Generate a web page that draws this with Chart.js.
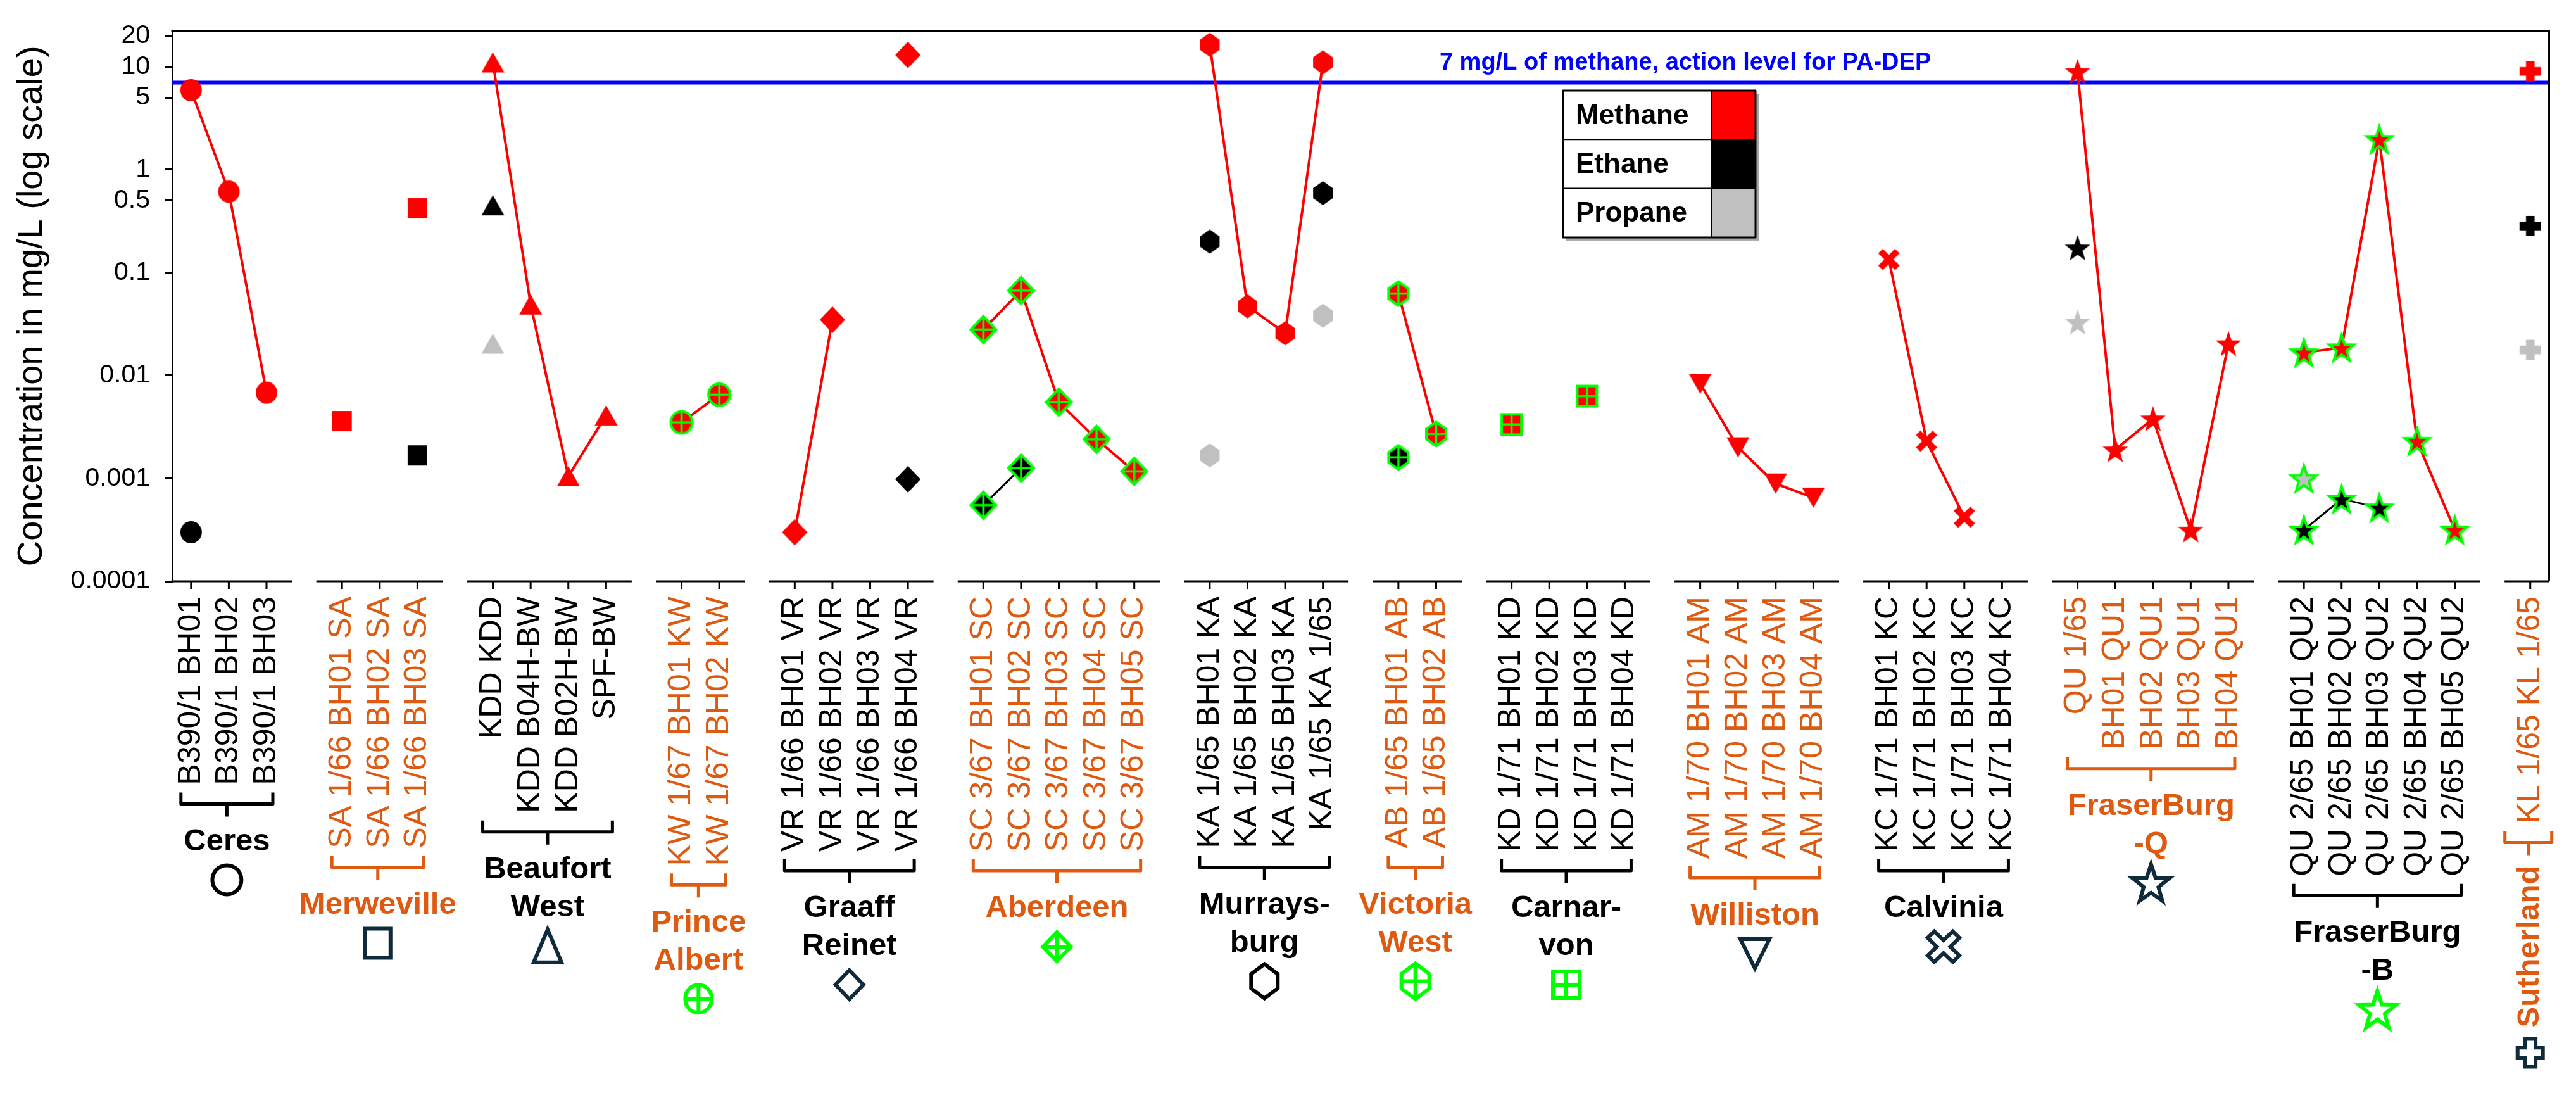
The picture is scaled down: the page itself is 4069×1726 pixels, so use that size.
<!DOCTYPE html>
<html><head><meta charset="utf-8">
<script src="https://cdn.jsdelivr.net/npm/chart.js@4.4.1/dist/chart.umd.min.js"></script>
<style>html,body{margin:0;padding:0;background:#fff}#wrap{width:4069px;height:1726px;position:relative}</style>
</head><body><div id="wrap"><canvas id="c"></canvas></div>
<script>
// ---------------- DATA ----------------
const groupNames = ['Ceres','Merweville','Beaufort\nWest','Prince\nAlbert','Graaff\nReinet','Aberdeen','Murrays-\nburg','Victoria\nWest','Carnar-\nvon','Williston','Calvinia','FraserBurg\n-Q','FraserBurg\n-B','Sutherland'];
const groupSizes = [3,3,4,2,4,5,4,2,4,4,4,5,5,1];
const categories = [
 'B390/1 BH01','B390/1 BH02','B390/1 BH03','',
 'SA 1/66 BH01 SA','SA 1/66 BH02 SA','SA 1/66 BH03 SA','',
 'KDD KDD','KDD B04H-BW','KDD B02H-BW','SPF-BW','',
 'KW 1/67 BH01 KW','KW 1/67 BH02 KW','',
 'VR 1/66 BH01 VR','VR 1/66 BH02 VR','VR 1/66 BH03 VR','VR 1/66 BH04 VR','',
 'SC 3/67 BH01 SC','SC 3/67 BH02 SC','SC 3/67 BH03 SC','SC 3/67 BH04 SC','SC 3/67 BH05 SC','',
 'KA 1/65 BH01 KA','KA 1/65 BH02 KA','KA 1/65 BH03 KA','KA 1/65 KA 1/65','',
 'AB 1/65 BH01 AB','AB 1/65 BH02 AB','',
 'KD 1/71 BH01 KD','KD 1/71 BH02 KD','KD 1/71 BH03 KD','KD 1/71 BH04 KD','',
 'AM 1/70 BH01 AM','AM 1/70 BH02 AM','AM 1/70 BH03 AM','AM 1/70 BH04 AM','',
 'KC 1/71 BH01 KC','KC 1/71 BH02 KC','KC 1/71 BH03 KC','KC 1/71 BH04 KC','',
 'QU 1/65','BH01 QU1','BH02 QU1','BH03 QU1','BH04 QU1','',
 'QU 2/65 BH01 QU2','QU 2/65 BH02 QU2','QU 2/65 BH03 QU2','QU 2/65 BH04 QU2','QU 2/65 BH05 QU2','',
 'KL 1/65 KL 1/65'
];
const methane = [
 5.9,0.61,0.0068,null,
 0.0036,null,0.42,null,
 11,0.049,0.00105,0.0041,null,
 0.0035,0.0065,null,
 0.0003,0.0348,null,13,null,
 0.0279,0.0668,0.0055,0.0024,0.00117,null,
 16.3,0.047,0.0257,11,null,
 0.0624,0.0027,null,
 0.00334,null,0.0063,null,null,
 0.0083,0.002,0.00089,0.00065,null,
 0.134,0.0023,0.00042,null,null,
 9,0.0019,0.0038,0.000316,0.0204,null,
 0.0167,0.0186,1.97,0.0023,0.000316,null,
 9
];
const ethane = [
 0.0003,null,null,null,
 null,null,0.00167,null,
 0.45,null,null,null,null,
 null,null,null,
 null,null,null,0.00098,null,
 0.00055,0.00126,null,null,null,null,
 0.2,null,null,0.59,null,
 0.0016,null,null,
 null,null,null,null,null,
 null,null,null,null,null,
 null,null,null,null,null,
 0.174,null,null,null,null,null,
 0.000316,0.00063,0.00052,null,null,null,
 0.283
];
const propane = [
 null,null,null,null,
 null,null,null,null,
 0.0204,null,null,null,null,
 null,null,null,
 null,null,null,null,null,
 null,null,null,null,null,null,
 0.00167,null,null,0.038,null,
 null,null,null,
 null,null,null,null,null,
 null,null,null,null,null,
 null,null,null,null,null,
 0.033,null,null,null,null,null,
 0.001,null,null,null,null,null,
 0.0177
];
const yTicks = [20,10,5,1,0.5,0.1,0.01,0.001,0.0001];
const actionLevel = 7;
const actionText = '7 mg/L of methane, action level for PA-DEP';
const legendNames = ['Methane','Ethane','Propane'];
const yTitle = 'Concentration in mg/L (log scale)';

// ---------------- STYLE ----------------
const FONT = "'Liberation Sans', Arial, Helvetica, sans-serif";
const LABEL_SIZE = 50;
const ORANGE = '#DD5A10', NAVY = '#0E2A3B', GREEN = '#00FF00', RED = '#FF0000', GREY = '#C0C0C0', BLUE = '#0000FF';
const legendColors = [RED, '#000000', GREY];
const gShape = ['circle','square','triangle','circle','diamond','diamond','hexagon','hexagon','square','triDown','x','star','star','plus'];
const gAccent = [null,null,null,'cross',null,'cross',null,'cross','cross',null,null,null,'outline',null];
const gSymColor = ['#000',NAVY,NAVY,GREEN,NAVY,GREEN,'#000',GREEN,GREEN,NAVY,NAVY,NAVY,GREEN,NAVY];
const gSymSize = [[46,46],[40,46],[44,52],[42,44],[44,46],[44,46],[42,54],[44,56],[42,42],[46,46],[52,50],[58,58],[58,58],[40,44]];
const mSize = {circle:[34,35],square:[31,32],triangle:[36,32],diamond:[40,42],hexagon:[31,38],triDown:[36,32],x:[34,34],star:[40,40],plus:[34,32]};

const groupStart = []; { let k = 0; groupSizes.forEach(n => { groupStart.push(k); k += n + 1; }); }
const groupOf = categories.map(() => -1);
groupSizes.forEach((n, g) => { for (let j = 0; j < n; j++) groupOf[groupStart[g] + j] = g; });

function polyPath(g, pts){ g.moveTo(pts[0][0], pts[0][1]); for (let i = 1; i < pts.length; i++) g.lineTo(pts[i][0], pts[i][1]); g.closePath(); }
function plusPts(a, b, t){ return [[-t,-b],[t,-b],[t,-t],[a,-t],[a,t],[t,t],[t,b],[-t,b],[-t,t],[-a,t],[-a,-t],[-t,-t]]; }
function shapePath(g, shape, w, h){
  const a = w/2, b = h/2; g.beginPath();
  if (shape === 'circle') g.ellipse(0,0,a,b,0,0,Math.PI*2);
  else if (shape === 'square') g.rect(-a,-b,w,h);
  else if (shape === 'triangle') polyPath(g,[[0,-b],[a,b],[-a,b]]);
  else if (shape === 'triDown') polyPath(g,[[-a,-b],[a,-b],[0,b]]);
  else if (shape === 'diamond') polyPath(g,[[0,-b],[a,0],[0,b],[-a,0]]);
  else if (shape === 'hexagon') polyPath(g,[[0,-b],[a,-b*0.42],[a,b*0.42],[0,b],[-a,b*0.42],[-a,-b*0.42]]);
  else if (shape === 'star') {
    const R = h/1.809, sx = w/(1.902*R), dy = (R - 0.809*R)/2, pts = [];
    for (let i = 0; i < 10; i++) { const r = i % 2 ? R*0.4 : R; const ang = -Math.PI/2 + i*Math.PI/5; pts.push([Math.cos(ang)*r*sx, Math.sin(ang)*r + dy]); }
    polyPath(g, pts);
  }
  else if (shape === 'plus') polyPath(g, plusPts(a, b, Math.min(a,b)*0.42));
  else if (shape === 'x') {
    const L = Math.hypot(a,b)*0.78, t = Math.min(a,b)*0.3;
    polyPath(g, plusPts(L, L, t).map(([px,py]) => [(px-py)*Math.SQRT1_2*(a/Math.max(a,b)), (px+py)*Math.SQRT1_2*(b/Math.max(a,b))]));
  }
}
function makeMarker(shape, fill, accent){
  const [w,h] = mSize[shape];
  const sw = accent ? 4 : 0;
  const cw = Math.ceil(w + sw + 6), ch = Math.ceil(h + sw + 6);
  const c = document.createElement('canvas'); c.width = cw; c.height = ch;
  const g = c.getContext('2d'); g.translate(cw/2, ch/2);
  shapePath(g, shape, w, h); g.fillStyle = fill; g.fill();
  if (accent === 'cross') {
    g.save(); g.clip(); g.strokeStyle = GREEN; g.lineWidth = 3.5; g.beginPath();
    g.moveTo(0,-h); g.lineTo(0,h); g.moveTo(-w,0); g.lineTo(w,0); g.stroke(); g.restore();
  }
  if (accent) { shapePath(g, shape, w, h); g.lineWidth = sw; g.strokeStyle = GREEN; g.lineJoin = 'miter'; g.stroke(); }
  return c;
}
function stylesFor(fill){
  const cache = {};
  return categories.map((_, i) => {
    const g = groupOf[i]; if (g < 0) return 'circle';
    if (!cache[g]) cache[g] = makeMarker(gShape[g], fill, gAccent[g]);
    return cache[g];
  });
}
const labelColor = i => { const g = groupOf[i]; return g >= 0 && g % 2 === 1 ? ORANGE : '#000'; };

// ---------------- PLUGIN ----------------
const decor = {
  id: 'decor',
  beforeDatasetsDraw(chart){
    const {ctx, chartArea: ca, scales: {y}} = chart;
    const yy = y.getPixelForValue(actionLevel);
    ctx.save(); ctx.strokeStyle = BLUE; ctx.lineWidth = 6;
    ctx.beginPath(); ctx.moveTo(ca.left, yy); ctx.lineTo(ca.right, yy); ctx.stroke();
    ctx.font = 'bold 38px ' + FONT; ctx.fillStyle = BLUE; ctx.textAlign = 'left'; ctx.textBaseline = 'middle';
    ctx.fillText(actionText, ca.left + (ca.right - ca.left)*0.5332, yy - 31);
    ctx.restore();
  },
  afterDraw(chart){
    const {ctx, chartArea: ca, scales: {x}} = chart;
    ctx.save();
    ctx.strokeStyle = '#000'; ctx.lineWidth = 3;
    ctx.beginPath(); ctx.moveTo(ca.left - 1.5, ca.top); ctx.lineTo(ca.right, ca.top); ctx.lineTo(ca.right, ca.bottom); ctx.stroke();
    const step = x.getPixelForValue(1) - x.getPixelForValue(0);
    const labelStart = ca.bottom + 24;
    groupSizes.forEach((n, g) => {
      const i0 = groupStart[g], i1 = i0 + n - 1;
      const p0 = x.getPixelForValue(i0), p1 = x.getPixelForValue(i1);
      ctx.strokeStyle = '#000'; ctx.lineWidth = 3;
      const s0 = g === 0 ? ca.left - 1.5 : p0 - 0.68*step;
      const s1 = g === groupSizes.length - 1 ? ca.right : p1 + 0.68*step;
      ctx.beginPath(); ctx.moveTo(s0, ca.bottom); ctx.lineTo(s1, ca.bottom);
      for (let i = i0; i <= i1; i++) { const p = x.getPixelForValue(i); ctx.moveTo(p, ca.bottom); ctx.lineTo(p, ca.bottom + 12); }
      ctx.stroke();
    });
    groupSizes.forEach((n, g) => {
      const i0 = groupStart[g], i1 = i0 + n - 1;
      const p0 = x.getPixelForValue(i0), p1 = x.getPixelForValue(i1);
      ctx.font = LABEL_SIZE + 'px ' + FONT;
      let maxW = 0; for (let i = i0; i <= i1; i++) maxW = Math.max(maxW, ctx.measureText(categories[i]).width);
      const col = g % 2 === 1 ? ORANGE : '#000';
      const top = labelStart + maxW + 12;
      let bx0 = p0 - 16, bx1 = p1 + 10;
      if (n === 1) { bx0 = p0 - 40; bx1 = p0 + 34; }
      const mid = top + 18, cx = (bx0 + bx1)/2;
      ctx.strokeStyle = col; ctx.lineWidth = 5; ctx.lineJoin = 'round'; ctx.lineCap = 'butt';
      ctx.beginPath(); ctx.moveTo(bx0, top); ctx.lineTo(bx0, mid); ctx.lineTo(bx1, mid); ctx.lineTo(bx1, top);
      ctx.moveTo(cx, mid); ctx.lineTo(cx, mid + 20); ctx.stroke();
      ctx.fillStyle = col; ctx.font = 'bold 49px ' + FONT;
      const lines = groupNames[g].split('\n');
      let symY;
      if (n === 1) {
        const t0 = mid + 36;
        const tw = ctx.measureText(lines[0]).width;
        ctx.save(); ctx.translate(p0, t0); ctx.rotate(-Math.PI/2);
        ctx.textAlign = 'right'; ctx.textBaseline = 'middle'; ctx.fillText(lines[0], 0, 0); ctx.restore();
        symY = t0 + tw + 40;
      } else {
        ctx.textAlign = 'center'; ctx.textBaseline = 'middle';
        const ly = top + 78;
        lines.forEach((l, k) => { ctx.fillText(l, cx, ly + k*60); });
        symY = ly + (lines.length - 1)*60 + 60;
      }
      const symX = n === 1 ? p0 : cx;
      const [sw, sh] = gSymSize[g];
      ctx.save(); ctx.translate(symX, symY);
      shapePath(ctx, gShape[g], sw, sh);
      ctx.lineWidth = 6; ctx.strokeStyle = gSymColor[g]; ctx.lineJoin = 'miter'; ctx.stroke();
      if (gAccent[g] === 'cross') { ctx.beginPath(); ctx.moveTo(0,-sh/2); ctx.lineTo(0,sh/2); ctx.moveTo(-sw/2,0); ctx.lineTo(sw/2,0); ctx.stroke(); }
      ctx.restore();
    });
    // legend table
    const L = {x: 2469, y: 143, w: 304, rh: 77.3, sw: 70};
    const H = L.rh * 3;
    ctx.fillStyle = 'rgba(0,0,0,0.35)'; ctx.fillRect(L.x + 5, L.y + 5, L.w, H);
    ctx.fillStyle = '#fff'; ctx.fillRect(L.x, L.y, L.w, H);
    legendNames.forEach((nm, k) => {
      ctx.fillStyle = legendColors[k]; ctx.fillRect(L.x + L.w - L.sw, L.y + k*L.rh, L.sw, L.rh);
      ctx.fillStyle = '#000'; ctx.font = 'bold 44px ' + FONT; ctx.textAlign = 'left'; ctx.textBaseline = 'middle';
      ctx.fillText(nm, L.x + 20, L.y + k*L.rh + L.rh/2 + 2);
    });
    ctx.strokeStyle = '#000'; ctx.lineWidth = 3; ctx.strokeRect(L.x, L.y, L.w, H);
    ctx.lineWidth = 2; ctx.beginPath();
    ctx.moveTo(L.x, L.y + L.rh); ctx.lineTo(L.x + L.w, L.y + L.rh);
    ctx.moveTo(L.x, L.y + 2*L.rh); ctx.lineTo(L.x + L.w, L.y + 2*L.rh);
    ctx.moveTo(L.x + L.w - L.sw, L.y); ctx.lineTo(L.x + L.w - L.sw, L.y + H);
    ctx.stroke();
    ctx.restore();
  }
};

// ---------------- CHART ----------------
new Chart(document.getElementById('c'), {
  type: 'line',
  data: {
    labels: categories,
    datasets: [
      {label: 'Methane', data: methane, borderColor: RED, backgroundColor: RED, borderWidth: 4, pointStyle: stylesFor(RED), pointRadius: 18, spanGaps: false, order: 0},
      {label: 'Ethane', data: ethane, borderColor: '#000', backgroundColor: '#000', borderWidth: 3, pointStyle: stylesFor('#000'), pointRadius: 18, spanGaps: false, order: 1},
      {label: 'Propane', data: propane, borderColor: GREY, backgroundColor: GREY, borderWidth: 3, showLine: false, pointStyle: stylesFor(GREY), pointRadius: 18, order: 2}
    ]
  },
  options: {
    responsive: true, maintainAspectRatio: false, devicePixelRatio: 1, animation: false,
    layout: {padding: {top: 32, right: 35, left: 0, bottom: 0}},
    plugins: {legend: {display: false}, tooltip: {enabled: false}},
    scales: {
      x: {
        type: 'category', offset: true,
        grid: {display: false, drawTicks: true, tickLength: 12},
        border: {display: false},
        ticks: {autoSkip: false, maxRotation: 90, minRotation: 90, padding: 12,
          font: {family: FONT, size: LABEL_SIZE}, color: c => labelColor(c.index)},
        afterFit: s => { s.height = 808; }
      },
      y: {
        type: 'logarithmic', min: 0.0001, max: 22.3,
        afterBuildTicks: s => { s.ticks = yTicks.map(v => ({value: v})); },
        grid: {display: true, drawOnChartArea: false, drawTicks: true, tickLength: 11, color: '#000', lineWidth: 3},
        border: {display: true, color: '#000', width: 3},
        ticks: {font: {family: FONT, size: 41}, color: '#000', padding: 24, callback: v => String(v)},
        title: {display: true, text: yTitle, font: {family: FONT, size: 56}, color: '#000', padding: {top: 17, bottom: 0}},
        afterFit: s => { s.width = 272; }
      }
    }
  },
  plugins: [decor]
});
</script></body></html>
